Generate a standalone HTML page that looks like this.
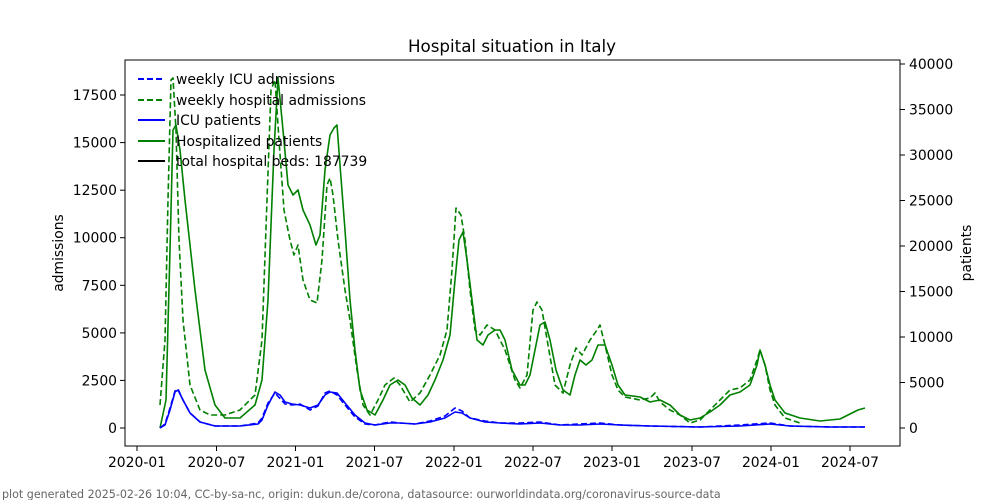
<!DOCTYPE html>
<html><head><meta charset="utf-8"><style>
html,body{margin:0;padding:0;background:#fff;}
svg{display:block;font-family:"DejaVu Sans","Liberation Sans",sans-serif;}
</style></head><body>
<svg width="1000" height="500" xmlns="http://www.w3.org/2000/svg">
<rect width="1000" height="500" fill="#fff"/>
<text x="512" y="52" font-size="16.7" text-anchor="middle" fill="#000">Hospital situation in Italy</text>
<g fill="none" stroke-linejoin="round" stroke-width="1.6">
<polyline stroke="#008000" points="160,428 166,400 170,250 173,130 176,125 180,150 185,200 195,290 205,370 215,405 225,418 240,418 255,405 262,380 268,300 274,150 278,78 283,130 288,185 293,195 298,190 303,210 310,225 316,245 320,235 325,170 330,135 334,128 337,125 340,165 345,230 350,300 355,350 360,390 367,410 375,415 383,400 390,385 398,380 405,385 412,398 420,405 428,395 435,380 443,360 450,335 455,280 459,240 463,232 467,260 472,300 477,340 483,345 488,335 495,330 500,330 505,340 512,370 520,385 525,385 530,375 535,350 540,325 545,322 550,340 556,370 563,390 570,395 575,375 580,360 586,365 592,360 598,345 605,345 612,365 618,385 625,395 640,397 650,402 660,400 670,405 680,415 690,420 700,418 710,412 720,405 730,395 740,392 750,385 757,365 760,350 765,365 770,385 775,400 785,413 800,418 820,421 840,419 850,414 858,410 865,408"/>
<polyline stroke="#008000" stroke-dasharray="6,3" points="160,405 165,340 168,200 171,80 173,78 176,130 179,240 183,320 190,385 200,410 210,415 225,415 240,410 255,395 262,340 267,200 271,90 275,80 279,140 284,210 290,240 294,255 298,245 303,280 310,300 317,303 322,260 327,185 330,178 333,195 338,240 345,290 350,320 357,370 363,405 370,415 378,400 385,385 394,378 400,385 410,402 420,393 430,375 440,355 447,330 452,270 456,208 461,215 465,240 470,290 475,330 480,335 487,325 495,330 505,350 515,380 520,388 527,375 533,310 537,302 542,310 548,345 555,385 563,393 570,365 576,348 582,355 590,340 597,330 600,325 605,345 612,375 618,390 625,397 640,400 650,398 655,393 660,402 670,410 680,415 690,423 700,420 710,410 720,400 730,390 740,388 750,380 757,360 760,350 765,365 770,390 775,405 785,418 800,423"/>
<polyline stroke="#0000ff" stroke-dasharray="6,3" points="160,428 165,424 170,408 175,391 178,389 183,400 190,413 200,422 215,426 240,426 258,423 262,418 268,403 275,393 285,404 292,405 300,404 310,410 318,406 325,393 330,391 337,395 345,405 355,417 365,424 375,425 390,422 400,423 415,424 430,421 445,416 455,408 462,411 470,418 485,421 500,423 520,423 540,422 560,425 580,424 600,423 620,425 650,426 700,427 740,425 770,423 790,426 830,427 865,427"/>
<polyline stroke="#0000ff" points="160,428 165,425 170,410 175,392 178,390 183,400 190,413 200,422 215,426 240,426 258,424 262,420 268,405 275,392 280,395 285,402 292,404 300,405 310,408 318,405 325,395 330,392 337,393 345,403 355,415 365,423 375,425 390,423 400,423 415,424 430,422 445,418 455,412 462,413 470,418 485,422 500,423 520,424 540,423 560,425 580,425 600,424 620,425 650,426 700,427 740,426 770,424 790,426 830,427 865,427"/>
</g>
<rect x="125" y="60" width="775" height="386" fill="none" stroke="#000" stroke-width="1"/>
<g stroke="#000" stroke-width="1">
<line x1="120" y1="428" x2="125" y2="428"/><line x1="120" y1="380.4" x2="125" y2="380.4"/><line x1="120" y1="332.9" x2="125" y2="332.9"/><line x1="120" y1="285.3" x2="125" y2="285.3"/><line x1="120" y1="237.7" x2="125" y2="237.7"/><line x1="120" y1="190.2" x2="125" y2="190.2"/><line x1="120" y1="142.6" x2="125" y2="142.6"/><line x1="120" y1="95" x2="125" y2="95"/>
<line x1="900" y1="428" x2="905" y2="428"/><line x1="900" y1="382.5" x2="905" y2="382.5"/><line x1="900" y1="337" x2="905" y2="337"/><line x1="900" y1="291.5" x2="905" y2="291.5"/><line x1="900" y1="246" x2="905" y2="246"/><line x1="900" y1="200.5" x2="905" y2="200.5"/><line x1="900" y1="155" x2="905" y2="155"/><line x1="900" y1="109.5" x2="905" y2="109.5"/><line x1="900" y1="64" x2="905" y2="64"/>
<line x1="137" y1="446" x2="137" y2="451"/><line x1="216.5" y1="446" x2="216.5" y2="451"/><line x1="295.5" y1="446" x2="295.5" y2="451"/><line x1="374.5" y1="446" x2="374.5" y2="451"/><line x1="454" y1="446" x2="454" y2="451"/><line x1="533" y1="446" x2="533" y2="451"/><line x1="612" y1="446" x2="612" y2="451"/><line x1="692" y1="446" x2="692" y2="451"/><line x1="771" y1="446" x2="771" y2="451"/><line x1="850" y1="446" x2="850" y2="451"/>
</g>
<g font-size="13.9" fill="#000" text-anchor="end">
<text x="117" y="433">0</text><text x="117" y="385.4">2500</text><text x="117" y="337.9">5000</text><text x="117" y="290.3">7500</text><text x="117" y="242.7">10000</text><text x="117" y="195.2">12500</text><text x="117" y="147.6">15000</text><text x="117" y="100">17500</text>
</g>
<g font-size="13.9" fill="#000">
<text x="909" y="433">0</text><text x="909" y="387.5">5000</text><text x="909" y="342">10000</text><text x="909" y="296.5">15000</text><text x="909" y="251">20000</text><text x="909" y="205.5">25000</text><text x="909" y="160">30000</text><text x="909" y="114.5">35000</text><text x="909" y="69">40000</text>
</g>
<g font-size="13.9" fill="#000" text-anchor="middle">
<text x="137" y="467">2020-01</text><text x="216.5" y="467">2020-07</text><text x="295.5" y="467">2021-01</text><text x="374.5" y="467">2021-07</text><text x="454" y="467">2022-01</text><text x="533" y="467">2022-07</text><text x="612" y="467">2023-01</text><text x="692" y="467">2023-07</text><text x="771" y="467">2024-01</text><text x="850" y="467">2024-07</text>
</g>
<text transform="translate(63,253) rotate(-90)" font-size="13.9" text-anchor="middle">admissions</text>
<text transform="translate(971,253) rotate(-90)" font-size="13.9" text-anchor="middle">patients</text>
<g stroke-width="2">
<line x1="138" y1="79" x2="165" y2="79" stroke="#0000ff" stroke-dasharray="6,3"/>
<line x1="138" y1="100" x2="165" y2="100" stroke="#008000" stroke-dasharray="6,3"/>
<line x1="138" y1="120" x2="165" y2="120" stroke="#0000ff"/>
<line x1="138" y1="141" x2="165" y2="141" stroke="#008000"/>
<line x1="138" y1="161" x2="165" y2="161" stroke="#000"/>
</g>
<g font-size="13.9" fill="#000">
<text x="176" y="84">weekly ICU admissions</text>
<text x="176" y="105">weekly hospital admissions</text>
<text x="176" y="125">ICU patients</text>
<text x="176" y="146">Hospitalized patients</text>
<text x="176" y="166">total hospital beds: 187739</text>
</g>
<text x="2" y="498" font-size="11.1" fill="#666">plot generated 2025-02-26 10:04, CC-by-sa-nc, origin: dukun.de/corona, datasource: ourworldindata.org/coronavirus-source-data</text>
</svg>
</body></html>
